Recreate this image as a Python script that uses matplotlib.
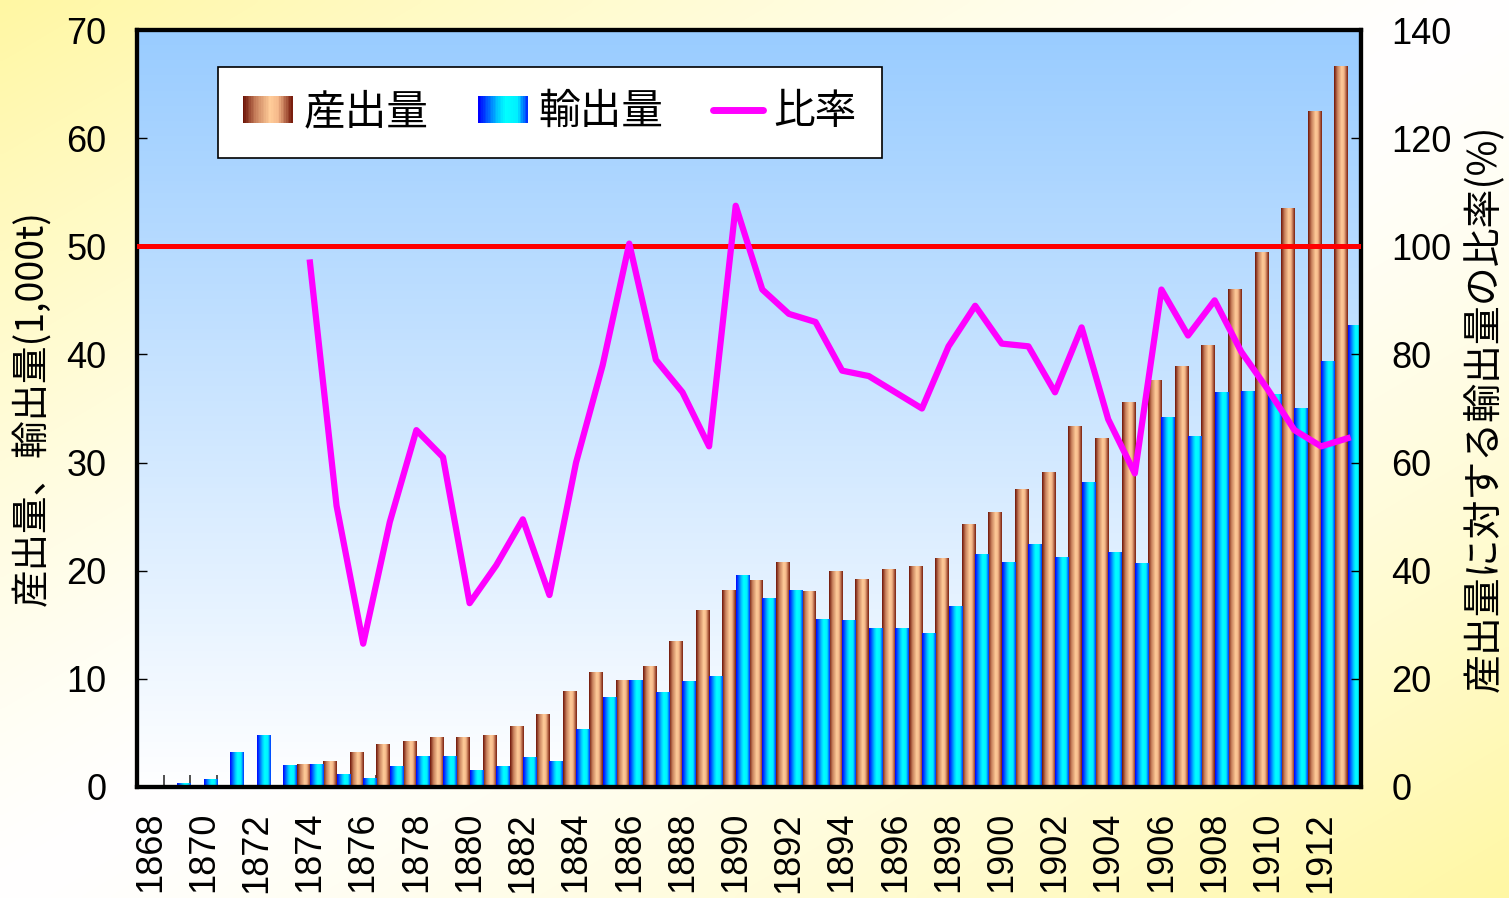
import numpy as np
import matplotlib
matplotlib.use('Agg')
from matplotlib import pyplot as plt
from matplotlib.colors import LinearSegmentedColormap
from matplotlib.patches import Rectangle
from matplotlib.legend_handler import HandlerBase
from matplotlib.lines import Line2D

plt.rcParams['font.family'] = ['Liberation Sans', 'Noto Sans CJK JP']

years = list(range(1868, 1914))
# 産出量 (1,000t)
production = [0, 0, 0, 0, 0, 0,
              2.1, 2.35, 3.2, 3.9, 4.2, 4.55, 4.55, 4.75, 5.6, 6.7,
              8.8, 10.6, 9.85, 11.15, 13.5, 16.3, 18.2, 19.1, 20.8, 18.1,
              19.95, 19.2, 20.1, 20.4, 21.15, 24.3, 25.4, 27.5, 29.1, 33.3,
              32.2, 35.6, 37.6, 38.85, 40.8, 46.0, 49.4, 53.5, 62.5, 66.6]
# 輸出量 (1,000t)
exports = [0.1, 0.3, 0.7, 3.2, 4.8, 2.0,
           2.05, 1.15, 0.8, 1.9, 2.8, 2.8, 1.5, 1.9, 2.7, 2.35,
           5.3, 8.3, 9.85, 8.75, 9.75, 10.25, 19.6, 17.45, 18.2, 15.5,
           15.4, 14.7, 14.7, 14.2, 16.7, 21.5, 20.8, 22.4, 21.2, 28.2,
           21.7, 20.7, 34.2, 32.4, 36.5, 36.6, 36.3, 35.0, 39.3, 42.7]
# 比率 (%)
ratio = [np.nan] * 6 + [
    97, 52, 26.5, 49, 66, 61, 34, 41, 49.5, 35.5,
    60, 78, 100.5, 79, 73, 63, 107.5, 92, 87.5, 86,
    77, 76, 73, 70, 81.5, 89, 82, 81.5, 73, 85,
    68, 58, 92, 83.5, 90, 80.5, 73.5, 66, 63, 64.5]
year_labels = [str(y) for y in years[::2]]

cjk = ['Noto Sans CJK JP', 'DejaVu Sans']

brown_cmap = LinearSegmentedColormap.from_list(
    'brown', [(0.0, '#6e1408'), (0.25, '#c8805c'), (0.55, '#ffcc99'),
              (0.72, '#f5b88a'), (1.0, '#7a1e0e')])
blue_cmap = LinearSegmentedColormap.from_list(
    'blue', [(0.0, '#0000ff'), (0.4, '#00ccff'), (0.55, '#00ffff'),
             (0.8, '#00f0ff'), (1.0, '#0033ff')])


class HandlerGradient(HandlerBase):
    def __init__(self, cmap):
        HandlerBase.__init__(self)
        self.cmap = cmap

    def create_artists(self, legend, orig_handle, xdescent, ydescent,
                       width, height, fontsize, trans):
        n = 30
        out = []
        for i in range(n):
            r = Rectangle((-xdescent + width * i / n, -ydescent), width / n + 0.3, height,
                          facecolor=self.cmap(i / (n - 1)), edgecolor='none',
                          transform=trans)
            out.append(r)
        return out


W, H = 1509, 898
fig = plt.figure(figsize=(W / 100, H / 100), dpi=100)

# figure background: yellow in two corners, white through the middle
bg = fig.add_axes([0, 0, 1, 1], zorder=-2)
gx, gy = np.meshgrid(np.linspace(0, 1, 300), np.linspace(0, 1, 200))
t = np.abs((gx + gy) - 1.0) ** 1.3
bg_img = np.zeros((200, 300, 3))
bg_img[..., 0] = 1.0
bg_img[..., 1] = 1.0 - 0.03 * t
bg_img[..., 2] = 1.0 - 0.36 * t
bg.imshow(bg_img, aspect='auto', extent=(0, 1, 0, 1), interpolation='bicubic')
bg.axis('off')

rect = [137 / W, 1 - 787 / H, 1224 / W, 757 / H]

# plot area background: sky blue at top to white at bottom
pbg = fig.add_axes(rect, zorder=-1)
v = np.linspace(0, 1, 200)[:, None]
top = np.array([153, 204, 255]) / 255
bot = np.array([255, 255, 255]) / 255
pimg = (top * (1 - v) + bot * v)[:, None, :].repeat(2, axis=1)
pbg.imshow(pimg, aspect='auto', extent=(0, 1, 0, 1))
pbg.axis('off')

ax = fig.add_axes(rect)
ax.patch.set_visible(False)

x = np.arange(len(years))
bars_p = ax.bar(x - 0.25, production, width=0.5, color='none', edgecolor='none')
bars_e = ax.bar(x + 0.25, exports, width=0.5, color='none', edgecolor='none')

grad = np.linspace(0, 1, 64)[None, :]
for bars, cmap in ((bars_p, brown_cmap), (bars_e, blue_cmap)):
    for b in bars:
        h = b.get_height()
        if h <= 0:
            continue
        x0 = b.get_x()
        ax.imshow(grad, cmap=cmap, aspect='auto', interpolation='bilinear',
                  extent=(x0, x0 + b.get_width(), 0, h), zorder=2)

ax.set_xlim(-0.5, len(years) - 0.5)
ax.set_ylim(0, 70)
ax.set_yticks(range(0, 71, 10))
ax.set_xticks(x[::2])
ax.set_xticklabels(year_labels, rotation=90, va='top')
ax.set_xticks(np.arange(0.5, len(years) - 0.5, 1), minor=True)
ax.tick_params(axis='x', which='major', length=0, pad=18, labelsize=26)
ax.tick_params(axis='x', which='minor', direction='in', length=9, width=1.2, color='#333333')
ax.tick_params(axis='y', direction='in', length=7, width=1, pad=22, labelsize=26)
for s in ax.spines.values():
    s.set_linewidth(3)
ax.set_ylabel('産出量、輸出量(1,000t)', family=cjk, fontsize=27)
ax.yaxis.set_label_coords(-0.070, 0.5)

ax2 = ax.twinx()
ax2.set_ylim(0, 140)
ax2.set_yticks(range(0, 141, 20))
ax2.tick_params(axis='y', direction='in', length=7, width=1, pad=22, labelsize=26)
ax2.axhline(100, color='#ff0000', lw=3.6, zorder=3)
ax2.plot(x, ratio, color='#ff00ff', lw=4.5, solid_joinstyle='round', zorder=4)
for s in ax2.spines.values():
    s.set_linewidth(3)
ax2.set_ylabel('産出量に対する輸出量の比率(%)', family=cjk, fontsize=28)
ax2.yaxis.set_label_coords(1.084, 0.5)

h1 = Rectangle((0, 0), 1, 1)
h2 = Rectangle((0, 0), 1, 1)
h3 = Line2D([], [], color='#ff00ff', lw=5, solid_capstyle='round')
leg = ax2.legend([h1, h2, h3], ['産出量', '輸出量', '比率'], ncol=3,
                 loc='upper left', bbox_to_anchor=(0.066, 0.951), borderaxespad=0,
                 prop={'family': cjk, 'size': 30},
                 handler_map={h1: HandlerGradient(brown_cmap), h2: HandlerGradient(blue_cmap)},
                 handlelength=1.2, handleheight=0.6, handletextpad=0.25,
                 columnspacing=1.2, borderpad=0.6, fancybox=False, framealpha=1,
                 edgecolor='black')
leg.get_frame().set_linewidth(1.2)

fig.savefig('out.png', dpi=100)
